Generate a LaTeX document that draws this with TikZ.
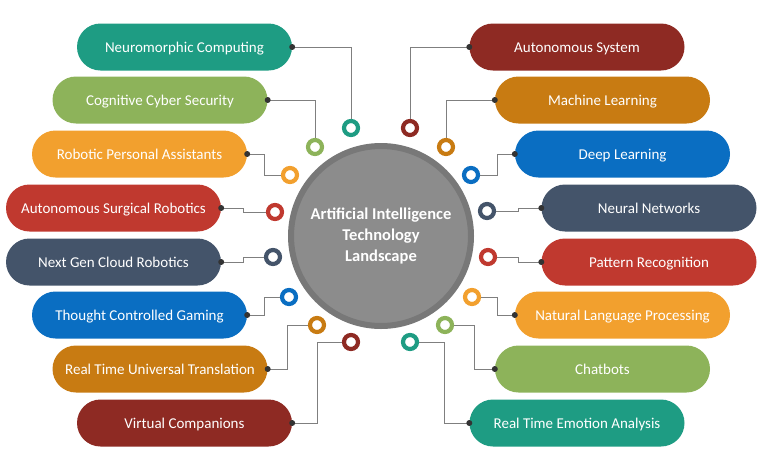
\documentclass[tikz,border=0pt]{standalone}
\usepackage{fontspec}
\setmainfont{Carlito}
\usepackage{xcolor}
\usetikzlibrary{positioning,calc}

\definecolor{aiteal}{HTML}{1E9C83}
\definecolor{aigreen}{HTML}{8DB35A}
\definecolor{aiorange}{HTML}{F2A02E}
\definecolor{aired}{HTML}{C0392F}
\definecolor{aislate}{HTML}{44546A}
\definecolor{aiblue}{HTML}{0A6EC2}
\definecolor{aiamber}{HTML}{C87B12}
\definecolor{aimaroon}{HTML}{8E2A23}
\definecolor{aihub}{HTML}{8C8C8C}
\definecolor{aihubrim}{HTML}{787878}
\definecolor{ailink}{HTML}{7F7F7F}
\definecolor{aidot}{HTML}{333333}

\tikzset{
    pill/.style={fill=#1, text=white, minimum width=215pt, minimum height=47pt,
        rounded corners=23.5pt, inner sep=0pt, text height=10.5pt, text depth=0pt,
        font=\fontsize{15}{17}\selectfont},
    ring/.style={circle, draw=#1, line width=4.2pt, fill=white, minimum size=14pt, inner sep=0pt},
    link/.style={draw=ailink, line width=0.9pt},
    pindot/.style={fill=aidot}
}

\begin{document}
\begin{tikzpicture}[x=1pt, y=-1pt]
    \useasboundingbox (0,0) rectangle (765,469);

    % Hub
    \node[circle, fill=aihub, draw=aihubrim, line width=6pt, minimum size=180pt, text=white,
        align=center, font=\bfseries\fontsize{16.5}{21}\selectfont] (hub) at (381,236)
        {Artificial Intelligence\\Technology\\Landscape};

    % Left side
    \node[pill=aiteal]   (L1) at (184.5,47)  {Neuromorphic Computing};
    \node[pill=aigreen]  (L2) at (160,100)   {Cognitive Cyber Security};
    \node[pill=aiorange] (L3) at (139.5,154) {Robotic Personal Assistants};
    \node[pill=aired]    (L4) at (113.5,208) {Autonomous Surgical Robotics};
    \node[pill=aislate]  (L5) at (113.5,262) {Next Gen Cloud Robotics};
    \node[pill=aiblue]   (L6) at (139.5,315) {Thought Controlled Gaming};
    \node[pill=aiamber]  (L7) at (160,369)   {Real Time Universal Translation};
    \node[pill=aimaroon] (L8) at (184.5,423) {Virtual Companions};

    \node[ring=aiteal]   (l1) at (351,128) {};
    \node[ring=aigreen]  (l2) at (315,147) {};
    \node[ring=aiorange] (l3) at (290,175) {};
    \node[ring=aired]    (l4) at (275,212) {};
    \node[ring=aislate]  (l5) at (273,257) {};
    \node[ring=aiblue]   (l6) at (289,297) {};
    \node[ring=aiamber]  (l7) at (317,325) {};
    \node[ring=aimaroon] (l8) at (351,342) {};

    \draw[link] (L1.east) -| (l1);
    \draw[link] (L2.east) -| (l2);
    \draw[link] (L3.east) -- ++(17,0) |- (l3);
    \draw[link] (L4.east) -- ++(22,0) |- (l4);
    \draw[link] (L5.east) -- ++(22,0) |- (l5);
    \draw[link] (L6.east) -- ++(17,0) |- (l6);
    \draw[link] (L7.east) -- ++(20,0) |- (l7);
    \draw[link] (L8.east) -- ++(25,0) |- (l8);

    % Right side
    \node[pill=aimaroon] (R1) at (577,47)    {Autonomous System};
    \node[pill=aiamber]  (R2) at (602.5,100) {Machine Learning};
    \node[pill=aiblue]   (R3) at (622.5,154) {Deep Learning};
    \node[pill=aislate]  (R4) at (649,208)   {Neural Networks};
    \node[pill=aired]    (R5) at (649,262)   {Pattern Recognition};
    \node[pill=aiorange] (R6) at (622.5,315) {Natural Language Processing};
    \node[pill=aigreen]  (R7) at (602.5,369) {Chatbots};
    \node[pill=aiteal]   (R8) at (577,423)   {Real Time Emotion Analysis};

    \node[ring=aimaroon] (r1) at (410,128) {};
    \node[ring=aiamber]  (r2) at (446,147) {};
    \node[ring=aiblue]   (r3) at (471,175) {};
    \node[ring=aislate]  (r4) at (487,211) {};
    \node[ring=aired]    (r5) at (488,257) {};
    \node[ring=aiorange] (r6) at (472,297) {};
    \node[ring=aigreen]  (r7) at (445,325) {};
    \node[ring=aiteal]   (r8) at (410,342) {};

    \draw[link] (R1.west) -| (r1);
    \draw[link] (R2.west) -| (r2);
    \draw[link] (R3.west) -- ++(-17,0) |- (r3);
    \draw[link] (R4.west) -- ++(-23,0) |- (r4);
    \draw[link] (R5.west) -- ++(-23,0) |- (r5);
    \draw[link] (R6.west) -- ++(-17,0) |- (r6);
    \draw[link] (R7.west) -- ++(-20,0) |- (r7);
    \draw[link] (R8.west) -- ++(-25,0) |- (r8);

    % Pin dots
    \foreach \p in {L1,L2,L3,L4,L5,L6,L7,L8}
        \fill[pindot] (\p.east) circle (3);
    \foreach \p in {R1,R2,R3,R4,R5,R6,R7,R8}
        \fill[pindot] (\p.west) circle (3);
\end{tikzpicture}
\end{document}
